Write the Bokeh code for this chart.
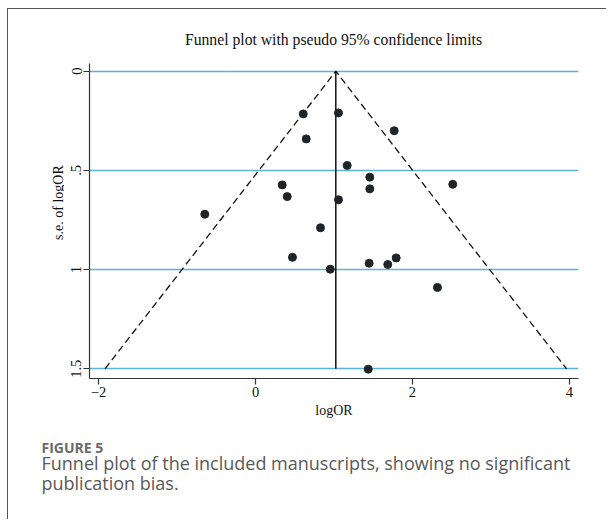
import math
from bokeh.plotting import figure
from bokeh.layouts import column, row
from bokeh.models import Range1d, FixedTicker, Label
from bokeh.embed import file_html
from bokeh.resources import INLINE

# ---- data ----
log_or = [0.608, 1.057, 1.767, 0.646, 1.168, 1.456, 1.456, 0.340, 0.404, 1.057,
          -0.646, 0.828, 0.471, 0.952, 1.448, 1.685, 1.792, 2.318, 1.436, 2.513]
se_log_or = [0.215, 0.210, 0.300, 0.341, 0.475, 0.534, 0.593, 0.573, 0.632, 0.648,
             0.721, 0.789, 0.938, 0.998, 0.968, 0.974, 0.941, 1.090, 1.502, 0.570]
pooled_log_or = 1.023
se_max = 1.5
z_95 = 1.96

x_ticks = [-2, 0, 2, 4]
x_tick_labels = ["\u22122", "0", "2", "4"]
y_ticks = [0, 0.5, 1, 1.5]
y_tick_labels = ["0", ".5", "1", "1.5"]

title_text = "Funnel plot with pseudo 95% confidence limits"
x_title = "logOR"
y_title = "s.e. of logOR"
caption_head = "FIGURE 5"
caption_lines = ["Funnel plot of the included manuscripts, showing no significant",
                 "publication bias."]

SERIF = "Liberation Serif"
SANS = "Open Sans"
BLUE = "#5cb3d9"
AXIS = "#333333"
INK = "#111111"


def text_panel(w, h):
    """A plain figure whose frame is the whole canvas; 1 data unit = 1 pixel, y downwards."""
    f = figure(width=w, height=h, x_range=Range1d(0, w), y_range=Range1d(h, 0),
               output_backend="svg", toolbar_location=None,
               x_axis_location=None, y_axis_location=None,
               min_border_left=0, min_border_right=0, min_border_top=0, min_border_bottom=0)
    f.grid.visible = False
    f.outline_line_color = None
    f.background_fill_color = "white"
    f.border_fill_color = "white"
    return f


def put(f, text, x, y, size, font, color, align="left", angle=0.0, style="normal"):
    f.add_layout(Label(x=x, y=y, text=text, text_font=font, text_font_size=f"{size}px",
                       text_color=color, text_align=align, text_baseline="middle",
                       angle=angle, text_font_style=style))


# ---- top strip: title ----
top = text_panel(598, 54)
put(top, title_text, 325, 30, 15.7, SERIF, INK, align="center")

# ---- left strip: y-axis title ----
left = text_panel(56, 367)
put(left, y_title, 49.5, 162, 14, SERIF, INK, align="center", angle=math.pi / 2)

# ---- main plot ----
p = figure(width=542, height=367,
           x_range=Range1d(-2.115, 4.115), y_range=Range1d(1.549, -0.039),
           output_backend="svg", toolbar_location=None,
           min_border_left=25, min_border_right=28,
           min_border_top=0, min_border_bottom=52)
p.outline_line_color = None
p.background_fill_color = "white"
p.border_fill_color = "white"

p.xaxis.ticker = FixedTicker(ticks=x_ticks)
p.xaxis.major_label_overrides = {t: l for t, l in zip(x_ticks, x_tick_labels)}
p.yaxis.ticker = FixedTicker(ticks=y_ticks)
p.yaxis.major_label_overrides = {t: l for t, l in zip(y_ticks, y_tick_labels)}
for ax in (p.xaxis, p.yaxis):
    ax.axis_line_color = AXIS
    ax.axis_line_width = 1.2
    ax.major_tick_line_color = AXIS
    ax.major_tick_line_width = 1.2
    ax.major_tick_out = 6
    ax.major_tick_in = 0
    ax.minor_tick_line_color = None
    ax.major_label_text_font = SERIF
    ax.major_label_text_font_size = "14.5px"
    ax.major_label_text_color = INK
p.xaxis.major_label_standoff = 2
p.yaxis.major_label_standoff = 2
p.yaxis.major_label_orientation = "vertical"
p.xaxis.axis_label = x_title
p.xaxis.axis_label_text_font = SERIF
p.xaxis.axis_label_text_font_size = "14px"
p.xaxis.axis_label_text_font_style = "normal"
p.xaxis.axis_label_text_color = INK
p.xaxis.axis_label_standoff = 3

p.xgrid.grid_line_color = None
p.ygrid.grid_line_color = BLUE
p.ygrid.grid_line_width = 1.6

# funnel (pseudo 95% limits) and pooled estimate
se_line = [se_max, 0.0, se_max]
x_line = [pooled_log_or - z_95 * se_max, pooled_log_or, pooled_log_or + z_95 * se_max]
p.line(x_line, se_line, line_color=INK, line_width=1.3, line_dash="7 4")
p.line([pooled_log_or, pooled_log_or], [0.0, se_max], line_color=INK, line_width=1.5)

# studies
p.scatter(log_or, se_log_or, size=8, fill_color="#1e2427", line_color="#1e2427")

# ---- bottom strip: caption ----
cap = text_panel(598, 89)
put(cap, caption_head, 33, 16.7, 14, SANS, "#6a6a6a", style="bold")
put(cap, caption_lines[0], 33, 32.5, 18, SANS, "#595959")
put(cap, caption_lines[1], 33, 52.5, 18, SANS, "#595959")

page = column(top, row(left, p, spacing=0), cap, spacing=0)
page.styles = {"margin-left": "7px", "margin-top": "8px",
               "border-left": "1px solid #555555", "border-top": "1px solid #555555"}

open("out.html", "w").write(file_html(page, INLINE))
